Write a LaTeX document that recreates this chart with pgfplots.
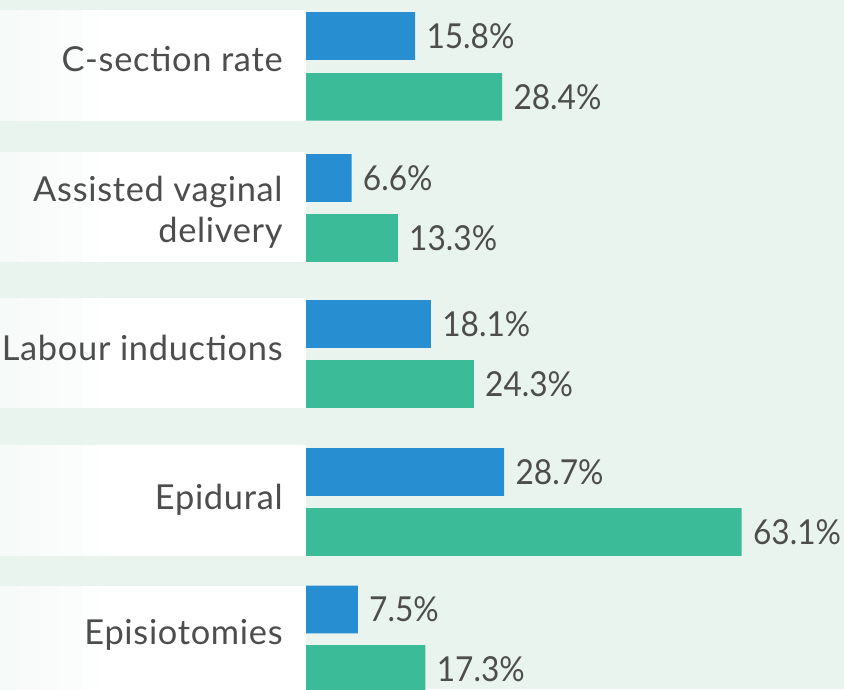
\documentclass[border=0pt]{standalone}
\usepackage{fontspec}
\setmainfont{Lato}[LetterSpace=2.0]
\newfontfamily\numfont{Lato}[FakeStretch=0.92]
\usepackage{pgfplots}
\pgfplotsset{compat=1.18}
\definecolor{bgc}{HTML}{EAF4EF}
\definecolor{cblue}{HTML}{278FD1}
\definecolor{cgreen}{HTML}{3CBB98}
\definecolor{txt}{HTML}{4D4D4D}
\newcommand{\lbl}{\fontsize{17.2}{20}\selectfont}
\begin{document}
\begin{tikzpicture}
\begin{axis}[
  scale only axis, width=422pt, height=344.5pt,
  xmin=-44.32, xmax=77.92, ymin=0, ymax=689, y dir=reverse,
  axis lines=none, xtick=\empty, ytick=\empty,
  xbar, bar width=47.7, bar shift=0pt,
  point meta=x,
  nodes near coords={\pgfmathprintnumber[fixed,fixed zerofill,precision=1,assume math mode=true]{\pgfplotspointmeta}\%},
  nodes near coords style={font=\numfont\lbl, text=txt, anchor=west, inner sep=0pt, xshift=5.5pt, overlay},
]
\fill[bgc] (rel axis cs:0,0) rectangle (rel axis cs:1,1);
% white label bands (slight fade at the far left)
\foreach \t/\b in {10/120.7, 152/261.7, 298/407.7, 445/555.7, 586/695}{
  \edef\tmp{%
  \noexpand\fill[white] (axis cs:-30,\t) rectangle (axis cs:0,\b);
  \noexpand\fill[bgc!45!white] (axis cs:-44.32,\t) rectangle (axis cs:-41.5,\b);
  \noexpand\fill[bgc!35!white] (axis cs:-41.5,\t) rectangle (axis cs:-38.5,\b);
  \noexpand\fill[bgc!26!white] (axis cs:-38.5,\t) rectangle (axis cs:-35.5,\b);
  \noexpand\fill[bgc!17!white] (axis cs:-35.5,\t) rectangle (axis cs:-32.5,\b);
  \noexpand\fill[bgc!8!white] (axis cs:-32.5,\t) rectangle (axis cs:-29.9,\b);}
  \tmp
}
\addplot[fill=cblue, draw=none] coordinates {(15.8,36) (6.6,177.9) (18.1,323.9) (28.7,471.9) (7.5,609.4)};
\addplot[fill=cgreen, draw=none] coordinates {(28.4,96.9) (13.3,237.9) (24.3,383.9) (63.1,531.9) (17.3,668.9)};
\node[anchor=base east, inner sep=0pt, font=\lbl, text=txt] at (axis cs:-3.33,71.7) {C-section rate};
\node[anchor=base east, inner sep=0pt, font=\lbl, text=txt] at (axis cs:-3.33,201) {Assisted vaginal};
\node[anchor=base east, inner sep=0pt, font=\lbl, text=txt] at (axis cs:-3.33,242) {delivery};
\node[anchor=base east, inner sep=0pt, font=\lbl, text=txt] at (axis cs:-3.33,360.5) {Labour inductions};
\node[anchor=base east, inner sep=0pt, font=\lbl, text=txt] at (axis cs:-3.33,509.3) {Epidural};
\node[anchor=base east, inner sep=0pt, font=\lbl, text=txt] at (axis cs:-3.33,644.3) {Episiotomies};
\end{axis}
\end{tikzpicture}
\end{document}
